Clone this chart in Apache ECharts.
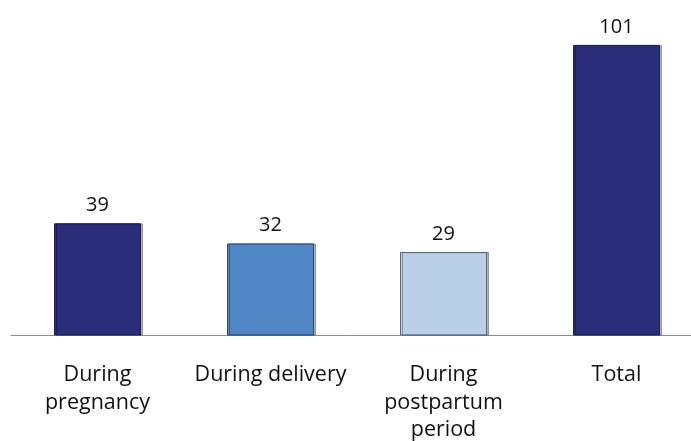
<!DOCTYPE html>
<html><head><meta charset="utf-8">
<script src="https://cdn.jsdelivr.net/npm/echarts@6/dist/echarts.min.js"></script>
<style>html,body{margin:0;padding:0;background:#fff;overflow:hidden}#c{width:691px;height:441px}</style>
</head><body><div id="c"></div>
<script>
var categories = ["During\npregnancy", "During delivery", "During\npostpartum\nperiod", "Total"];
var values = [39, 32, 29, 101];
var barColors = ["#2a2d7a", "#5087c6", "#b9cfe8"];
var borderColors = ["#1c1f55", "#2f4a75", "#5c6475"];
var colorIndex = [0, 1, 2, 0];

var chart = echarts.init(document.getElementById('c'));
var font = "'Open Sans', sans-serif";
chart.setOption({
  animation: false,
  grid: {left: 11, width: 692, top: 19, bottom: 105.5, containLabel: false, outerBoundsMode: 'none'},
  xAxis: {
    type: 'category', data: categories,
    axisLine: {lineStyle: {color: '#8c8c8c', width: 1}},
    axisTick: {show: false},
    axisLabel: {color: '#111', fontSize: 21.5, fontFamily: font, lineHeight: 27.5, margin: 26, interval: 0}
  },
  yAxis: {type: 'value', min: 0, max: 110, show: false, splitLine: {show: false}},
  series: [{
    type: 'bar', barWidth: 87,
    data: values.map(function (v, i) {
      return {value: v, itemStyle: {color: barColors[colorIndex[i]], borderColor: borderColors[colorIndex[i]], borderWidth: 1,
        shadowColor: 'rgba(0,0,0,0.3)', shadowOffsetX: 2, shadowBlur: 0}};
    }),
    label: {show: true, position: 'top', distance: 8, color: '#111', fontSize: 20, fontFamily: font}
  }]
});
</script></body></html>
